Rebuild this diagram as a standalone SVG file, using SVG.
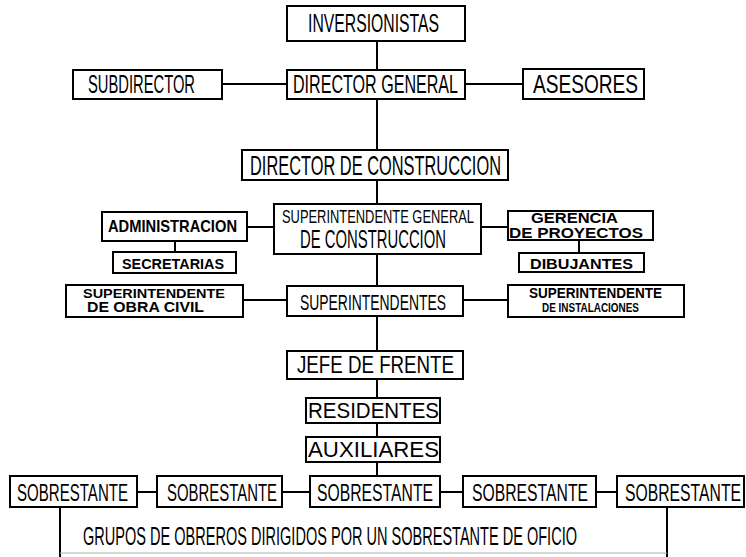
<svg xmlns="http://www.w3.org/2000/svg" width="746" height="557" viewBox="0 0 746 557">
<style>
.b{fill:#fff;stroke:#000;stroke-width:2}
.l{stroke:#000;stroke-width:2;fill:none}
.t{font-family:"Liberation Sans",Arial,sans-serif;fill:#000}
.k{font-family:"Liberation Sans",Arial,sans-serif;font-weight:bold;fill:#000}
</style>
<rect width="746" height="557" fill="#fff"/>
<g id="connectors">
<line class="l" x1="377" y1="41" x2="377" y2="476"/>
<line class="l" x1="222" y1="84" x2="287" y2="84"/>
<line class="l" x1="465" y1="84" x2="523" y2="84"/>
<line class="l" x1="247" y1="227" x2="274" y2="227"/>
<line class="l" x1="481" y1="227" x2="508" y2="227"/>
<line class="l" x1="175" y1="241" x2="175" y2="252"/>
<line class="l" x1="579" y1="240" x2="579" y2="253"/>
<line class="l" x1="243" y1="300" x2="287" y2="300"/>
<line class="l" x1="463" y1="300" x2="508" y2="300"/>
<line class="l" x1="137" y1="492" x2="157" y2="492"/>
<line class="l" x1="282" y1="492" x2="310" y2="492"/>
<line class="l" x1="440" y1="492" x2="463" y2="492"/>
<line class="l" x1="596" y1="492" x2="617" y2="492"/>
<line class="l" x1="60" y1="507" x2="60" y2="557"/>
<line class="l" x1="667" y1="507" x2="667" y2="557"/>
<line x1="60" y1="553" x2="667" y2="553" stroke="#aaa" stroke-width="1"/>
</g>
<g id="inversionistas"><rect class="b" x="287" y="6" width="178" height="35"/><text class="t" x="308" y="32" font-size="25" textLength="131" lengthAdjust="spacingAndGlyphs">INVERSIONISTAS</text></g>
<g id="subdirector"><rect class="b" x="73" y="70" width="149" height="29"/><text class="t" x="88" y="93" font-size="25" textLength="107" lengthAdjust="spacingAndGlyphs">SUBDIRECTOR</text></g>
<g id="director-general"><rect class="b" x="287" y="70" width="178" height="29"/><text class="t" x="293" y="93" font-size="25" textLength="165" lengthAdjust="spacingAndGlyphs">DIRECTOR GENERAL</text></g>
<g id="asesores"><rect class="b" x="523" y="69" width="121" height="30"/><text class="t" x="533" y="93" font-size="26" textLength="105" lengthAdjust="spacingAndGlyphs">ASESORES</text></g>
<g id="director-construccion"><rect class="b" x="242" y="150" width="266" height="30"/><text class="t" x="250" y="175" font-size="28" textLength="251" lengthAdjust="spacingAndGlyphs">DIRECTOR DE CONSTRUCCION</text></g>
<g id="administracion"><rect class="b" x="102" y="212" width="145" height="29"/><text class="k" x="108" y="232" font-size="17" textLength="129" lengthAdjust="spacingAndGlyphs">ADMINISTRACION</text></g>
<g id="superintendente-general"><rect class="b" x="274" y="204" width="207" height="50"/><text class="t" x="282" y="223" font-size="18" textLength="192" lengthAdjust="spacingAndGlyphs">SUPERINTENDENTE GENERAL</text><text class="t" x="300" y="248" font-size="25" textLength="146" lengthAdjust="spacingAndGlyphs">DE CONSTRUCCION</text></g>
<g id="gerencia"><rect class="b" x="508" y="211" width="145" height="29"/><text class="k" x="531" y="223" font-size="14" textLength="87" lengthAdjust="spacingAndGlyphs">GERENCIA</text><text class="k" x="509" y="238" font-size="14" textLength="134" lengthAdjust="spacingAndGlyphs">DE PROYECTOS</text></g>
<g id="secretarias"><rect class="b" x="113" y="252" width="123" height="21"/><text class="k" x="122" y="269" font-size="15" textLength="102" lengthAdjust="spacingAndGlyphs">SECRETARIAS</text></g>
<g id="dibujantes"><rect class="b" x="519" y="253" width="125" height="19"/><text class="k" x="530" y="269" font-size="15" textLength="103" lengthAdjust="spacingAndGlyphs">DIBUJANTES</text></g>
<g id="obra-civil"><rect class="b" x="66" y="285" width="177" height="32"/><text class="k" x="83" y="298" font-size="13" textLength="142" lengthAdjust="spacingAndGlyphs">SUPERINTENDENTE</text><text class="k" x="87" y="312" font-size="14" textLength="117" lengthAdjust="spacingAndGlyphs">DE OBRA CIVIL</text></g>
<g id="superintendentes"><rect class="b" x="287" y="286" width="176" height="30"/><text class="t" x="300" y="310" font-size="22" textLength="146" lengthAdjust="spacingAndGlyphs">SUPERINTENDENTES</text></g>
<g id="instalaciones"><rect class="b" x="508" y="285" width="176" height="32"/><text class="k" x="529" y="298" font-size="14" textLength="133" lengthAdjust="spacingAndGlyphs">SUPERINTENDENTE</text><text class="k" x="542" y="312" font-size="13" textLength="97" lengthAdjust="spacingAndGlyphs">DE INSTALACIONES</text></g>
<g id="jefe-frente"><rect class="b" x="287" y="351" width="176" height="28"/><text class="t" x="297" y="373" font-size="23" textLength="157" lengthAdjust="spacingAndGlyphs">JEFE DE FRENTE</text></g>
<g id="residentes"><rect class="b" x="306" y="398" width="134" height="25"/><text class="t" x="308" y="418" font-size="22" textLength="131" lengthAdjust="spacingAndGlyphs">RESIDENTES</text></g>
<g id="auxiliares"><rect class="b" x="306" y="437" width="134" height="25"/><text class="t" x="308" y="457" font-size="22" textLength="131" lengthAdjust="spacingAndGlyphs">AUXILIARES</text></g>
<g id="sobrestante-1"><rect class="b" x="10" y="476" width="127" height="31"/><text class="t" x="17" y="501" font-size="24" textLength="111" lengthAdjust="spacingAndGlyphs">SOBRESTANTE</text></g>
<g id="sobrestante-2"><rect class="b" x="157" y="476" width="125" height="31"/><text class="t" x="167" y="501" font-size="24" textLength="110" lengthAdjust="spacingAndGlyphs">SOBRESTANTE</text></g>
<g id="sobrestante-3"><rect class="b" x="310" y="476" width="130" height="31"/><text class="t" x="317" y="501" font-size="24" textLength="116" lengthAdjust="spacingAndGlyphs">SOBRESTANTE</text></g>
<g id="sobrestante-4"><rect class="b" x="463" y="476" width="133" height="31"/><text class="t" x="472" y="501" font-size="24" textLength="116" lengthAdjust="spacingAndGlyphs">SOBRESTANTE</text></g>
<g id="sobrestante-5"><rect class="b" x="617" y="476" width="127" height="31"/><text class="t" x="625" y="501" font-size="24" textLength="116" lengthAdjust="spacingAndGlyphs">SOBRESTANTE</text></g>
<g id="grupos"><text class="t" x="83" y="545" font-size="25" textLength="494" lengthAdjust="spacingAndGlyphs">GRUPOS DE OBREROS DIRIGIDOS POR UN SOBRESTANTE DE OFICIO</text></g>
</svg>
